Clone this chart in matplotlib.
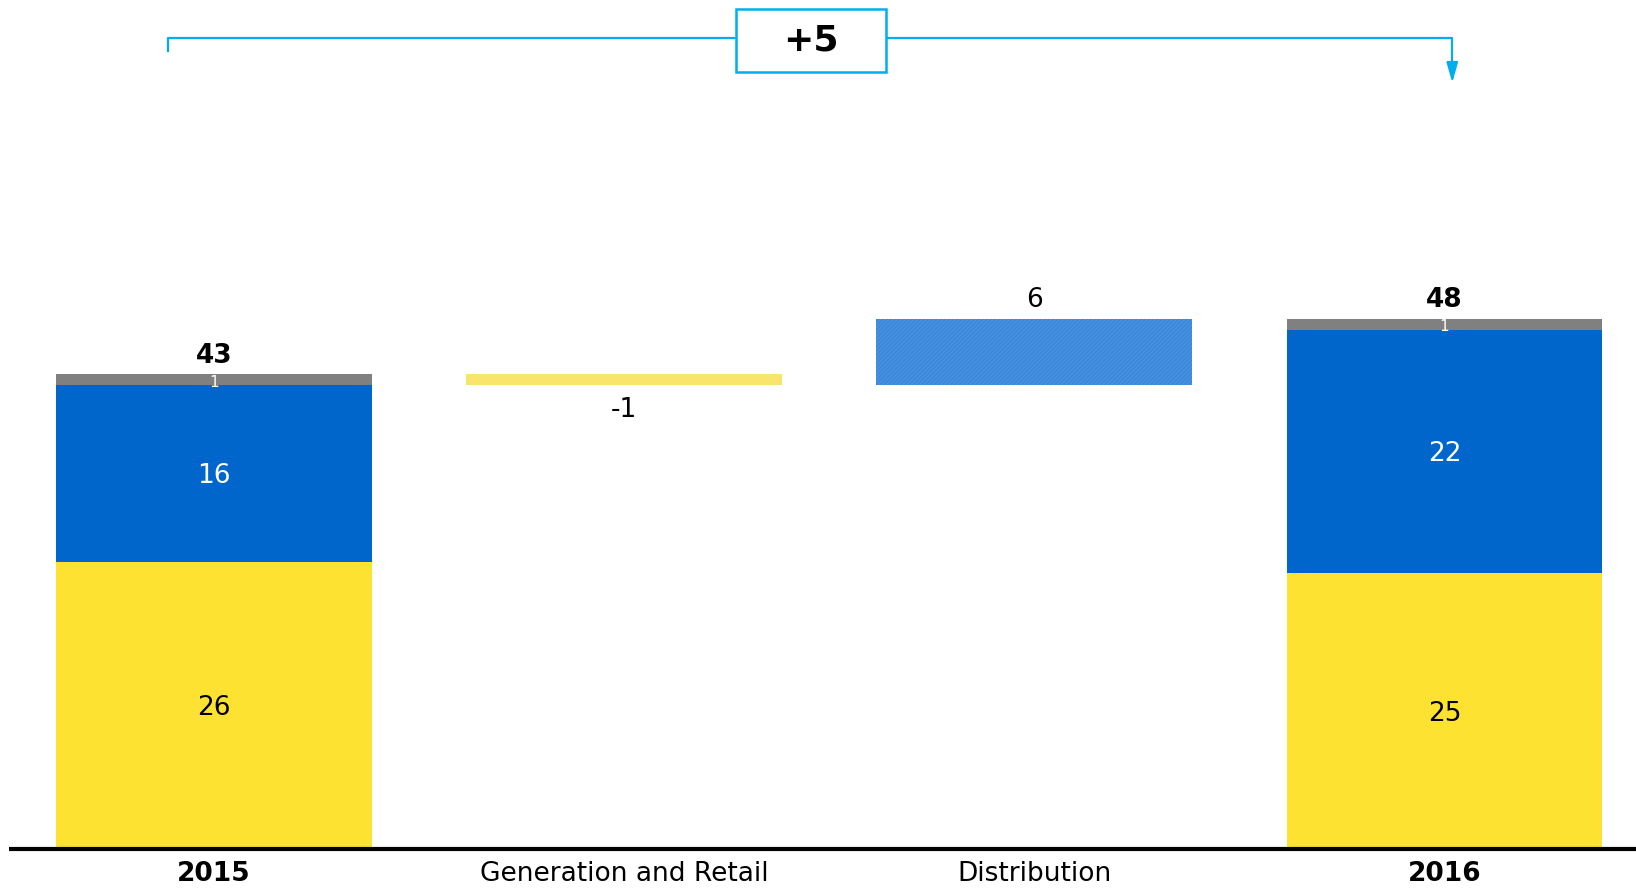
import numpy as np
import matplotlib
matplotlib.use("Agg")
import matplotlib.pyplot as plt
from matplotlib.patches import Rectangle

categories = ["2015", "Generation and Retail", "Distribution", "2016"]
# stacked totals: generation & retail, distribution, other
gen_2015, dist_2015, other_2015 = 26, 16, 1
gen_2016, dist_2016, other_2016 = 25, 22, 1
deltas = [-1, 6]
delta_text = "+5"

c_gen = "#FDE232"
c_dist = "#0066CC"
c_other = "#808080"
c_gen_light = "#F9E56C"
c_dist_hatch = "#3C88DA"
c_bracket = "#00AEEF"

fig = plt.figure(figsize=(16.36, 8.88), dpi=100)
ax = fig.add_axes([0, 0, 1, 1])
ax.set_xlim(-0.522, 3.467)
ax.set_ylim(-3.53, 76.9)
ax.axis("off")

x = np.arange(len(categories))
w = 0.77
fs = 19

# totals
for xi, (g, d, o) in zip([x[0], x[3]], [(gen_2015, dist_2015, other_2015), (gen_2016, dist_2016, other_2016)]):
    ax.bar(xi, g, w, color=c_gen)
    ax.bar(xi, d, w, bottom=g, color=c_dist)
    ax.bar(xi, o, w, bottom=g + d, color=c_other)
    ax.text(xi, g / 2 - 0.25, str(g), ha="center", va="center", fontsize=fs, color="black")
    ax.text(xi, g + d / 2 - 0.25, str(d), ha="center", va="center", fontsize=fs, color="white")
    ax.text(xi, g + d + o / 2 - 0.2, str(o), ha="center", va="center", fontsize=11, color="white")
    ax.text(xi, g + d + o + 1.7, str(g + d + o), ha="center", va="center", fontsize=fs,
            fontweight="bold", color="black")

total_2015 = gen_2015 + dist_2015 + other_2015
total_2016 = gen_2016 + dist_2016 + other_2016

# bridge bars
level = total_2015
plt.rcParams["hatch.linewidth"] = 0.4
for i, dv in enumerate(deltas):
    xi = x[i + 1]
    if dv < 0:
        ax.bar(xi, dv, w, bottom=level, color=c_gen_light)
        ax.text(xi, level + dv - 2.25, str(dv), ha="center", va="center", fontsize=fs)
        level += dv
    else:
        ax.bar(xi, dv, w, bottom=level, color=c_dist_hatch, edgecolor="#5C9DE3",
               hatch="////////", linewidth=0)
        ax.text(xi, level + dv + 1.7, str(dv), ha="center", va="center", fontsize=fs)
        level += dv

# baseline
ax.plot([-0.5, 3.467], [0, 0], color="black", lw=3, solid_capstyle="butt")

# category labels
for xi, cat in zip(x, categories):
    bold = cat in ("2015", "2016")
    ax.text(xi, -2.3, cat, ha="center", va="center", fontsize=fs,
            fontweight="bold" if bold else "normal")

# bracket with delta
yb = 73.5
xl, xr = x[0] - 0.112, x[3] + 0.019
ax.plot([xl, xl, xr, xr], [yb - 1.2, yb, yb, yb - 2.6], color=c_bracket, lw=1.6)
ax.annotate("", xy=(xr, 69.4), xytext=(xr, yb - 2.2),
            arrowprops=dict(arrowstyle="-|>,head_width=0.34,head_length=1.2",
                            color=c_bracket, lw=1.6, shrinkA=0, shrinkB=0))
bx0, bx1 = 1.273, 1.639
ax.add_patch(Rectangle((bx0, 70.4), bx1 - bx0, 5.65, facecolor="white",
                       edgecolor=c_bracket, lw=1.8, zorder=3))
ax.text((bx0 + bx1) / 2, 73.2, delta_text, ha="center", va="center", fontsize=26,
        fontweight="bold", zorder=4)

fig.savefig("out.png", dpi=100)
